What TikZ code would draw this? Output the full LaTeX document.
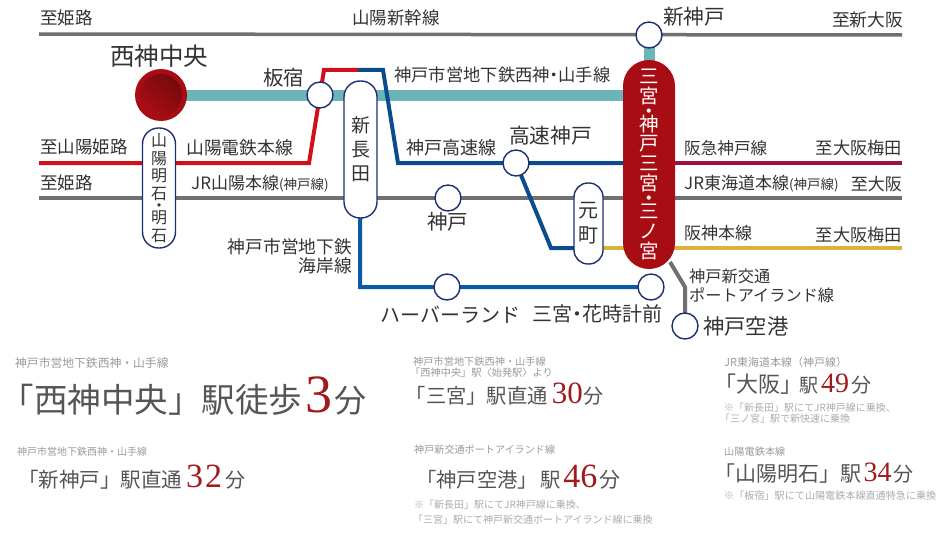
\documentclass[tikz,border=0pt]{standalone}
\usepackage{fontspec}
\setmainfont{Noto Sans CJK JP}
\newfontfamily\numfont{Liberation Serif}
\usetikzlibrary{backgrounds}
\newcommand{\nd}{\kern-.25em・\kern-.25em}
\newcommand{\fs}[1]{\fontsize{#1}{#1}\selectfont}
\newcommand{\fsv}[2]{\fontsize{#1}{#2}\selectfont\lineskiplimit=-100pt\relax}
\definecolor{txt}{HTML}{333333}
\definecolor{subt}{HTML}{9A9A9A}
\definecolor{maint}{HTML}{555555}
\definecolor{note}{HTML}{ABABAB}
\definecolor{navy}{HTML}{1F2F74}
\definecolor{teal}{HTML}{6BB5B8}
\definecolor{grayline}{HTML}{707070}
\definecolor{redline}{HTML}{D0111B}
\definecolor{blueline}{HTML}{0B4C8C}
\definecolor{kaigan}{HTML}{0A5BA6}
\definecolor{hankyu}{HTML}{9A123F}
\definecolor{hanshin}{HTML}{DAB439}
\definecolor{wine}{HTML}{A90D14}
\definecolor{numred}{HTML}{A11A1E}
\tikzset{
  x=1pt,y=-1pt,
  lbl/.style={font=\fs{#1},text=txt,inner sep=0pt,anchor=west},
  lbl/.default=17.5,
  rlbl/.style={lbl=#1,anchor=east},
  sta/.style={circle,draw=navy,line width=1.4pt,fill=white,minimum size=26pt,inner sep=0pt},
  pill/.style={rectangle,draw=navy,line width=1.4pt,fill=white,inner sep=0pt,align=center,text=txt},
  rail/.style={line width=#1,line join=miter},
  rail/.default=3.5pt,
  sub/.style={font=\fs{#1},text=subt,inner sep=0pt,anchor=west},
  nt/.style={font=\fs{#1},text=note,inner sep=0pt,anchor=west},
  mn/.style={font=\fs{#1},text=maint,inner sep=0pt,anchor=base west},
}
\newcommand{\num}[2]{{\numfont\fontsize{#1}{#1}\selectfont\color{numred}#2}}
\begin{document}
\begin{tikzpicture}
\useasboundingbox (0,0) rectangle (950,535);
% stations
\node[circle,fill=wine,minimum size=52pt,inner sep=0pt] (nishi) at (161,95) {};
\node[circle,top color=black!30!wine,bottom color=wine,shading angle=-40,minimum size=42pt,inner sep=0pt] (nishicore) at (161,95) {};
\node[sta] (itayado) at (320,95) {};
\node[sta] (shinkobe) at (649,35) {};
\node[sta] (kobe) at (448,198) {};
\node[sta] (kosoku) at (516,163) {};
\node[sta] (harbor) at (447,287) {};
\node[sta] (hanadokei) at (651,287) {};
\node[sta] (airport) at (685,326) {};
\node[rectangle,fill=wine,rounded corners=26pt,minimum width=52pt,minimum height=209pt,inner sep=0pt,align=center,text=white,font=\fsv{19.5}{20}] (sannomiya) at (649,164.5)
 {三\\宮\\[-5pt]・\\[-7pt]神\\[-1pt]戸\\三\\宮\\[-5pt]・\\[-7pt]三\\ノ\\宮};
\node[pill,rounded corners=16pt,minimum width=33pt,minimum height=137pt,font=\fsv{19}{24}] (nagata) at (360.5,149.5)
 {新\\長\\田};
\node[pill,rounded corners=16pt,minimum width=33pt,minimum height=120pt,font=\fsv{16}{17.5}] (akashi) at (159,188)
 {山\\陽\\明\\石\\[-5.5pt]・\\[-5pt]明\\石};
\node[pill,rounded corners=14pt,minimum width=29pt,minimum height=81pt,font=\fsv{20}{25}] (moto) at (588.5,223.5)
 {元\\町};
% way points
\coordinate (topW) at (39,34);
\coordinate (topE) at (902,35);
\coordinate (redW) at (39,163);
\coordinate (redA) at (309,163);
\coordinate (redB) at (324,70);
\coordinate (redC) at (358,70);
\coordinate (bluB) at (383,70);
\coordinate (bluC) at (398,163);
\coordinate (jrW) at (39,198);
\coordinate (jrE) at (902,198);
\coordinate (hkE) at (902,163);
\coordinate (hsE) at (902,248);
\coordinate (kosB) at (551,248);
\coordinate (kaiA) at (360,287);
\coordinate (plA) at (670,262);
\coordinate (plB) at (685,287);
\begin{scope}[on background layer]
\draw[rail,grayline] (topW) -- (topE);
\draw[rail=3.5pt,grayline] (jrW) -- (jrE);
\draw[rail=11pt,teal] (nishi.center) -- (sannomiya.center |- nishi.center);
\draw[rail=11pt,teal] (shinkobe.center) -- (sannomiya.center);
\draw[rail=4pt,redline] (redW) -- (redA) -- (redB) -- (redC);
\draw[rail=4pt,blueline] (redC) -- (bluB) -- (bluC) -- (sannomiya.center |- bluC);
\draw[rail=3.5pt,hankyu] (sannomiya.center |- hkE) -- (hkE);
\draw[rail=3.5pt,hanshin] (moto.center |- hsE) -- (hsE);
\draw[rail=4pt,blueline] (kosoku.center) -- (kosB) -- (moto.center |- kosB);
\draw[rail=4pt,kaigan] (nagata.center) -- (kaiA) -- (hanadokei.center);
\draw[rail=4pt,grayline] (plA) -- (plB) -- (airport.center);
\end{scope}
% labels
\node[lbl] (l1) at (40,18) {至姫路};
\node[lbl] (l2) at (352,18) {山陽新幹線};
\node[lbl=24.5] (l3) at (110,56) {西神中央};
\node[lbl=20.5] (l4) at (263,78) {板宿};
\node[lbl=17.3] (l5) at (394,75) {神戸市営地下鉄西神\nd 山手線};
\node[lbl] (l6) at (40,147) {至山陽姫路};
\node[lbl=17.8] (l7) at (186,148) {山陽電鉄本線};
\node[lbl=18] (l8) at (406,148) {神戸高速線};
\node[lbl=20.7] (l9) at (509,136) {高速神戸};
\node[lbl] (l10) at (40,183) {至姫路};
\node[lbl=17] (l11) at (191,184) {JR山陽本線{\fs{13.5}(神戸線)}};
\node[lbl=20.7] (l12) at (663,17) {新神戸};
\node[lbl=17.7] (l13) at (832,20) {至新大阪};
\node[lbl=16.6] (l14) at (684,148) {阪急神戸線};
\node[rlbl=17.2] (l15) at (902,148) {至大阪梅田};
\node[lbl=17] (l16) at (684,184) {JR東海道本線{\fs{13.5}(神戸線)}};
\node[rlbl=17] (l17) at (902,184) {至大阪};
\node[lbl=17] (l18) at (684,233) {阪神本線};
\node[rlbl=17.2] (l19) at (902,235) {至大阪梅田};
\node[lbl=16.2] (l20) at (689,276) {神戸新交通};
\node[lbl=16.2] (l21) at (689,295) {ポートアイランド線};
\node[lbl=21.3] (l22) at (703,326) {神戸空港};
\node[lbl=20] (l23) at (532,314) {三宮\nd 花時計前};
\node[lbl=20] (l24) at (380,315) {ハーバーランド};
\node[lbl=20.5] (l25) at (427,222) {神戸};
\node[rlbl=17.7] (l26) at (352,247) {神戸市営地下鉄};
\node[rlbl=17.7] (l27) at (352,266) {海岸線};
% access block 1
\node[sub=11.8] (a1) at (15,363) {神戸市営地下鉄西神・山手線};
\node[mn=33.5] (a2) at (0.5,412) {「西神中央」駅徒歩\kern3pt\num{54}{3}\kern2pt\fs{32}分};
\node[sub=10] (b1) at (17,452) {神戸市営地下鉄西神・山手線};
\node[mn=20.5] (b2) at (18,487) {「新神戸」駅直通\kern4pt\num{34}{3\kern2pt 2}\kern3pt\fs{20}分};
% block 2
\node[sub=10.2] (c1) at (413,362) {神戸市営地下鉄西神・山手線};
\node[sub=10.2] (c2) at (410,373) {「西神中央」駅〈始発駅〉より};
\node[mn=20.3] (c3) at (405.5,403) {「三宮」駅直通\kern4pt\num{31}{30}\kern1pt\fs{20}分};
\node[sub=10.1] (d1) at (414,450) {神戸新交通ポートアイランド線};
\node[mn=20.3] (d2) at (416,487) {「神戸空港」\kern3pt 駅\kern2pt\num{34}{46}\kern2pt\fs{21}分};
\node[nt=10] (d3) at (414,505) {※「新長田」駅にてJR神戸線に乗換、};
\node[nt=10] (d4) at (413,520) {「三宮」駅にて神戸新交通ポートアイランド線に乗換};
% block 3
\node[sub=11] (e1) at (724,362) {JR東海道本線（神戸線）};
\node[mn=22] (e2) at (714,392) {「大阪」\kern-3pt{\fs{19}駅}\kern3pt\num{28}{49}\kern2pt\fs{20}分};
\node[nt=10] (e3) at (724,408) {※「新長田」駅にてJR神戸線に乗換、};
\node[nt=10] (e4) at (720,419) {「三ノ宮」駅で新快速に乗換};
\node[sub=10.2] (f1) at (724,452) {山陽電鉄本線};
\node[mn=21] (f2) at (714.5,481) {「山陽明石」駅\kern2pt\num{28}{34}\kern2pt\fs{20}分};
\node[nt=10.1] (f3) at (724,496) {※「板宿」駅にて山陽電鉄本線直通特急に乗換};
\end{tikzpicture}
\end{document}
